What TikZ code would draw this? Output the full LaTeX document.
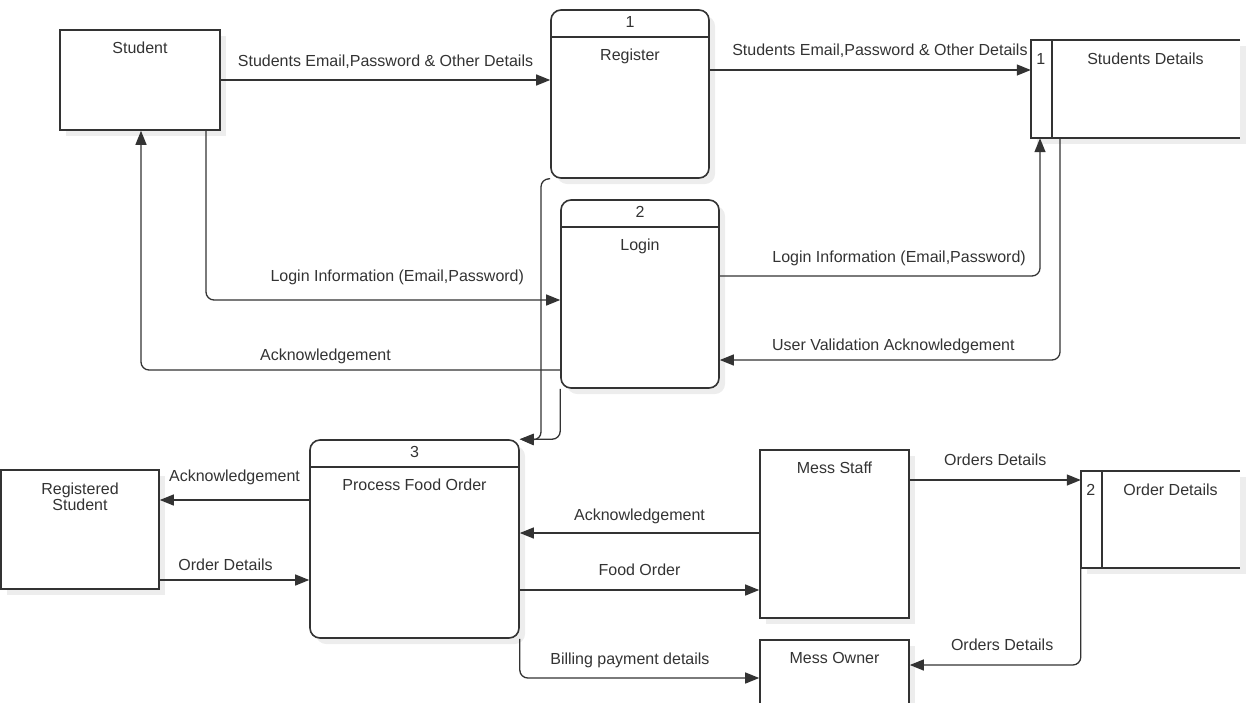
\documentclass[tikz,border=0pt]{standalone}
\usepackage{fontspec}
\setmainfont{Liberation Sans}
\usetikzlibrary{arrows.meta,positioning,shadows}
\definecolor{ink}{HTML}{333333}
\definecolor{wire}{HTML}{333333}
\tikzset{
  box shadow/.style={drop shadow={shadow xshift=6pt,shadow yshift=-6pt,opacity=0.07,fill=black}},
  proc box/.style={draw=ink,line width=1.6pt,rounded corners=10pt,fill=white,box shadow,inner sep=0pt},
  ext box/.style={draw=ink,line width=1.6pt,fill=white,box shadow,inner sep=0pt},
  store box/.style={fill=white,box shadow,inner sep=0pt},
  store line/.style={ink,line width=1.6pt},
  box text/.style={font=\fontsize{16}{16}\selectfont,text=ink,inner sep=0pt,text height=11.5pt,text depth=0pt},
  flow edge/.style={-{Triangle[length=14pt,width=11pt]},wire,line width=1.3pt},
  flow bend/.style={flow edge,rounded corners=8pt},
  flow label/.style={font=\fontsize{16}{16}\selectfont,text=ink,inner sep=0pt,text height=11.5pt,text depth=0pt},
}

\begin{document}
\begin{tikzpicture}[x=1pt,y=-1pt]
  \useasboundingbox (0,0) rectangle (1249,702);
  \clip (0,0) rectangle (1249,702);
  % processes
  \foreach \i/\x/\y/\w/\h/\txt in {1/630/94/158/168/Register,2/640/294/158/188/Login,3/414.5/539/209/198/Process Food Order}{
    \node[proc box,minimum width=\w pt,minimum height=\h pt] (p\i) at (\x,\y) {};
    \draw[store line] ([yshift=-28pt]p\i.north west) -- ([yshift=-28pt]p\i.north east);
    \node[box text] (p\i-num) at ([yshift=-13pt]p\i.north) {\i};
    \node[box text] (p\i-name) at ([yshift=-46pt]p\i.north) {\txt};
  }
  % data stores
  \foreach \i/\x/\y/\w/\h/\txt in {1/1135.5/89/209/98/Students Details,2/1160.5/519.5/159/97/Order Details}{
    \node[store box,minimum width=\w pt,minimum height=\h pt] (d\i) at (\x,\y) {};
    \draw[store line] (d\i.north east) -- (d\i.north west) -- (d\i.south west) -- (d\i.south east);
    \draw[store line] ([xshift=21pt]d\i.north west) -- ([xshift=21pt]d\i.south west);
    \node[box text] (d\i-num) at ([xshift=10pt,yshift=-19pt]d\i.north west) {\i};
    \node[box text] (d\i-name) at ([xshift=10pt,yshift=-19pt]d\i.north) {\txt};
  }
  % external entities
  \node[ext box,minimum width=160pt,minimum height=100pt] (stu) at (140,80) {};
  \node[box text] (stu-name) at ([yshift=-19pt]stu.north) {Student};
  \node[ext box,minimum width=158pt,minimum height=119pt] (rst) at (80,529.5) {};
  \node[font=\fontsize{16}{16}\selectfont,text=ink,inner sep=0pt,align=center,anchor=north] (rst-name) at ([yshift=-13pt]rst.north) {Registered\\Student};
  \node[ext box,minimum width=149pt,minimum height=168pt] (ms) at (834.5,534) {};
  \node[box text] (ms-name) at ([yshift=-19pt]ms.north) {Mess Staff};
  \node[ext box,minimum width=149pt,minimum height=100pt] (mo) at (834.5,690) {};
  \node[box text] (mo-name) at ([yshift=-19pt]mo.north) {Mess Owner};
  % flows
  \draw[flow edge] (stu.east) -- node[flow label,above=13pt] (l1) {Students Email,Password \& Other Details} (stu.east -| p1.west);
  \draw[flow edge] (p1.east |- 0,70) -- node[flow label,above=14pt,pos=0.53] (l2) {Students Email,Password \& Other Details} (d1.west |- 0,70);
  \draw[flow bend] (stu.south -| 206,0) |- node[flow label,above=18pt,pos=0.77] (l3) {Login Information (Email,Password)} (p2.west |- 0,300);
  \draw[flow bend] (p2.west |- 0,370) -| node[flow label,above=9pt,pos=0.28] (l4) {Acknowledgement} (stu.south -| 141,0);
  \draw[flow bend] (p2.east |- 0,276) -| node[flow label,above=13pt,pos=0.28] (l5) {Login Information (Email,Password)} (d1.south -| 1040,0);
  \draw[flow bend] (d1.south -| 1060,0) |- node[flow label,above=9pt,pos=0.745] (l6) {User Validation Acknowledgement} (p2.east |- 0,360);
  \draw[flow bend] (p1.south west) -| (541,440) -- (p3.north east);
  \draw[flow bend] (p2.south west) |- (p3.north east);
  \draw[flow edge] (p3.west |- 0,500) -- node[flow label,above=18pt] (l7) {Acknowledgement} (rst.east |- 0,500);
  \draw[flow edge] (rst.east |- 0,580) -- node[flow label,above=9pt,pos=0.44] (l8) {Order Details} (p3.west |- 0,580);
  \draw[flow edge] (ms.west |- 0,533) -- node[flow label,above=12pt] (l9) {Acknowledgement} (p3.east |- 0,533);
  \draw[flow edge] (p3.east |- 0,590) -- node[flow label,above=14pt] (l10) {Food Order} (ms.west |- 0,590);
  \draw[flow bend] (p3.south east) |- node[flow label,above=13pt,pos=0.73] (l11) {Billing payment details} (mo.west |- 0,678);
  \draw[flow edge] (ms.east |- 0,480) -- node[flow label,above=14pt] (l12) {Orders Details} (d2.west |- 0,480);
  \draw[flow bend] (d2.south west) |- node[flow label,above=14pt,pos=0.73] (l13) {Orders Details} (mo.east |- 0,665);
\end{tikzpicture}
\end{document}
